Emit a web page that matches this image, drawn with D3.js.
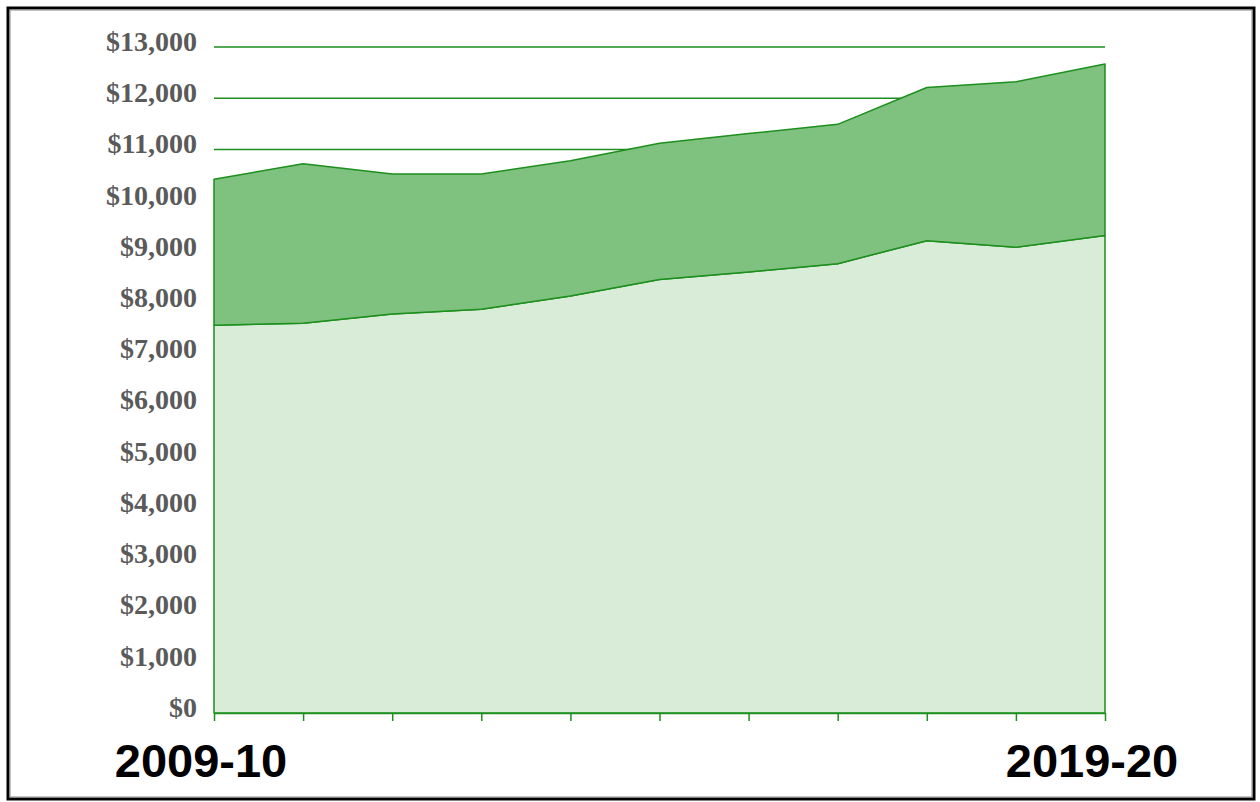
<!DOCTYPE html>
<html><head><meta charset="utf-8">
<script src="https://cdn.jsdelivr.net/npm/d3@7"></script>
<style>html,body{margin:0;padding:0;background:#fff;}svg{display:block;}</style>
</head><body>
<svg id="chart" width="1260" height="802"></svg>
<script>
const years = ["2009-10","2010-11","2011-12","2012-13","2013-14","2014-15","2015-16","2016-17","2017-18","2018-19","2019-20"];
const baseValues = [7570, 7610, 7790, 7880, 8140, 8460, 8610, 8770, 9220, 9090, 9320];
const addedValues = [2850, 3110, 2730, 2640, 2640, 2660, 2700, 2720, 2990, 3230, 3350];
const yTicks = [0,1000,2000,3000,4000,5000,6000,7000,8000,9000,10000,11000,12000,13000];
const xLabels = ["2009-10","2019-20"];

(function(){
const svg = d3.select("#chart");
svg.append("rect").attr("x",8).attr("y",8).attr("width",1246).attr("height",791)
  .attr("fill","none").attr("stroke","#000").attr("stroke-width",3);
svg.append("rect").attr("x",10).attr("y",10).attr("width",1242).attr("height",787)
  .attr("fill","none").attr("stroke","#888").attr("stroke-width",1);

const pl=214, pr=1105, pt=47, pb=713;
const x = d3.scalePoint().domain(years).range([pl,pr]);
const y = d3.scaleLinear().domain([0,13000]).range([pb,pt]);
const green="#1d8f1d";

const data = years.map((yr,i)=>({year:yr, base:baseValues[i], added:addedValues[i]}));
const stack = d3.stack().keys(["base","added"])(data);

svg.append("g").selectAll("line").data(yTicks.filter(d=>d>0)).join("line")
  .attr("x1",pl).attr("x2",pr).attr("y1",d=>y(d)).attr("y2",d=>y(d))
  .attr("stroke",green).attr("stroke-width",1.5);

const area = d3.area().x(d=>x(d.data.year)).y0(d=>y(d[0])).y1(d=>y(d[1]));
const fills = ["#d9ecd8","#7fc17f"];
svg.append("g").selectAll("path").data(stack).join("path")
  .attr("d",area).attr("fill",(d,i)=>fills[i])
  .attr("stroke",green).attr("stroke-width",1.5).attr("stroke-linejoin","round");

const yAxis = d3.axisLeft(y).tickValues(yTicks).tickSize(0).tickPadding(17)
  .tickFormat(d=>"$"+d3.format(",")(d));
const yg = svg.append("g").attr("transform",`translate(${pl},0)`).call(yAxis);
yg.select(".domain").remove();
yg.selectAll("text").attr("font-family","'Liberation Serif','Times New Roman',serif")
  .attr("font-weight","bold").attr("font-size",28).attr("fill","#5a5a5a")
  .attr("dy","0.12em");

const xAxis = d3.axisBottom(x).tickSize(8).tickFormat("");
const xg = svg.append("g").attr("transform",`translate(0,${pb})`).call(xAxis);
xg.select(".domain").attr("stroke",green).attr("stroke-width",1.5).attr("d",`M${pl},0.5H${pr}`);
xg.selectAll(".tick line").attr("stroke",green).attr("stroke-width",1.5);

svg.append("g").selectAll("text").data(xLabels).join("text")
  .attr("x",d=>x(d)-13).attr("y",777).attr("text-anchor","middle")
  .attr("font-family","'Liberation Sans',Arial,sans-serif").attr("font-weight","bold")
  .attr("font-size",47).attr("fill","#000").text(d=>d);
})();
</script>
</body></html>
